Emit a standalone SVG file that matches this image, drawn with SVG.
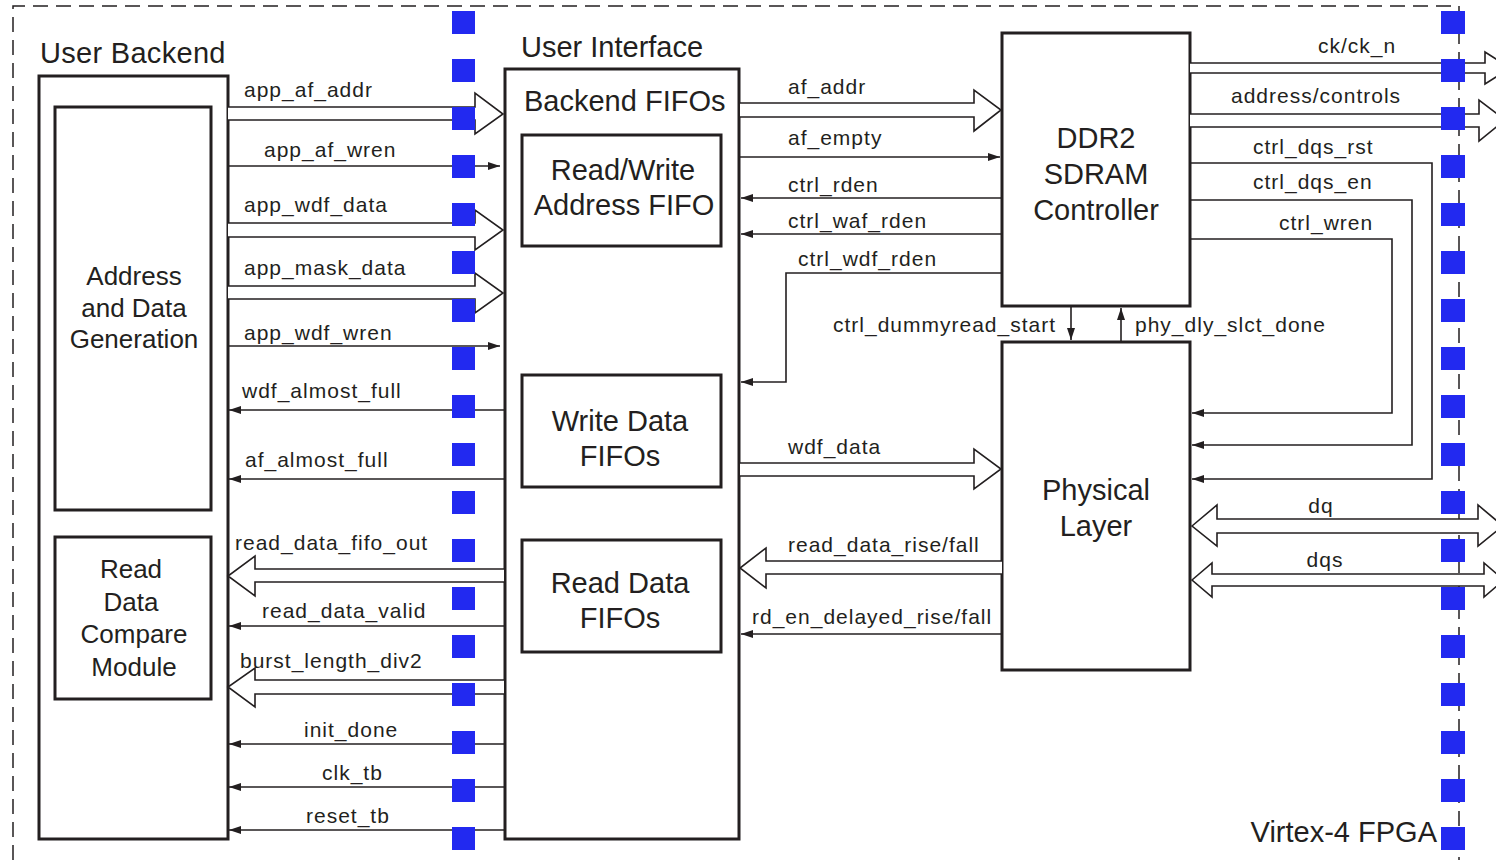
<svg xmlns="http://www.w3.org/2000/svg" width="1496" height="860" viewBox="0 0 1496 860">
<style>
.box{fill:none;stroke:#231f20;stroke-width:3}
.ln{fill:none;stroke:#231f20;stroke-width:1.6}
.wd{fill:#fff;stroke:#231f20;stroke-width:1.6;stroke-linejoin:miter}
.frame{fill:none;stroke:#231f20;stroke-width:1.5;stroke-dasharray:15 8}
.sq{fill:#2229f0}
text{font-family:"Liberation Sans",Arial,Helvetica,sans-serif;fill:#231f20}
.s{font-size:21px;letter-spacing:1px}
.m{font-size:26px}
.b{font-size:29px}
</style>
<defs>
<marker id="ah" viewBox="0 0 12 8" refX="12" refY="4" markerWidth="12" markerHeight="8" orient="auto" markerUnits="userSpaceOnUse">
<path d="M0,0 L12,4 L0,8 z" fill="#231f20"/>
</marker>
</defs>
<rect width="1496" height="860" fill="#fff"/>
<path class="frame" d="M13,860 V6 H1459 V860"/>
<text class="b" x="1437" y="842" text-anchor="end">Virtex-4 FPGA</text>

<g id="user-backend">
<rect class="box" x="39" y="76" width="189" height="763"/>
<text class="b" x="40" y="63" style="letter-spacing:0.3px">User Backend</text>
</g>
<g id="addr-data-gen">
<rect class="box" x="55" y="107" width="156" height="403"/>
<text class="m" x="134" y="285" text-anchor="middle">Address</text>
<text class="m" x="134" y="317" text-anchor="middle">and Data</text>
<text class="m" x="134" y="348" text-anchor="middle">Generation</text>
</g>
<g id="read-data-compare">
<rect class="box" x="55" y="537" width="156" height="162"/>
<text class="m" x="131" y="578" text-anchor="middle">Read</text>
<text class="m" x="131" y="611" text-anchor="middle">Data</text>
<text class="m" x="134" y="643" text-anchor="middle">Compare</text>
<text class="m" x="134" y="676" text-anchor="middle">Module</text>
</g>
<g id="user-interface">
<rect class="box" x="505" y="69" width="234" height="770"/>
<text class="b" x="521" y="57">User Interface</text>
<text class="b" x="524" y="111">Backend FIFOs</text>
</g>
<g id="rw-addr-fifo">
<rect class="box" x="522" y="135" width="199" height="111"/>
<text class="b" x="623" y="180" text-anchor="middle">Read/Write</text>
<text class="b" x="624" y="215" text-anchor="middle">Address FIFO</text>
</g>
<g id="write-data-fifos">
<rect class="box" x="522" y="375" width="199" height="112"/>
<text class="b" x="620" y="431" text-anchor="middle">Write Data</text>
<text class="b" x="620" y="466" text-anchor="middle">FIFOs</text>
</g>
<g id="read-data-fifos">
<rect class="box" x="522" y="540" width="199" height="112"/>
<text class="b" x="620" y="593" text-anchor="middle">Read Data</text>
<text class="b" x="620" y="628" text-anchor="middle">FIFOs</text>
</g>
<g id="ddr2-controller">
<rect class="box" x="1002" y="33" width="188" height="273"/>
<text class="b" x="1096" y="148" text-anchor="middle">DDR2</text>
<text class="b" x="1096" y="184" text-anchor="middle">SDRAM</text>
<text class="b" x="1096" y="220" text-anchor="middle">Controller</text>
</g>
<g id="physical-layer">
<rect class="box" x="1002" y="342" width="188" height="328"/>
<text class="b" x="1096" y="500" text-anchor="middle">Physical</text>
<text class="b" x="1096" y="536" text-anchor="middle">Layer</text>
</g>

<g id="connectors">
<path class="wd" d="M228,107 H475 V93 L503,114 L475,134 V120 H228"/>
<path class="ln" marker-end="url(#ah)" d="M228,166 H500"/>
<path class="wd" d="M228,223 H475 V210 L503,230 L475,250 V237 H228"/>
<path class="wd" d="M228,286 H475 V273 L503,293 L475,313 V299 H228"/>
<path class="ln" marker-end="url(#ah)" d="M228,346 H500"/>
<path class="ln" marker-end="url(#ah)" d="M504,410 H229"/>
<path class="ln" marker-end="url(#ah)" d="M504,479 H229"/>
<path class="wd" d="M504,569 H255 V556 L228,576 L255,596 V582 H504"/>
<path class="ln" marker-end="url(#ah)" d="M504,626 H229"/>
<path class="wd" d="M504,680 H255 V668 L228,687 L255,707 V694 H504"/>
<path class="ln" marker-end="url(#ah)" d="M504,744 H229"/>
<path class="ln" marker-end="url(#ah)" d="M504,787 H229"/>
<path class="ln" marker-end="url(#ah)" d="M504,830 H229"/>

<path class="wd" d="M740,103 H974 V90 L1001,110 L974,131 V117 H740"/>
<path class="ln" marker-end="url(#ah)" d="M740,157 H1000"/>
<path class="ln" marker-end="url(#ah)" d="M1002,198 H741"/>
<path class="ln" marker-end="url(#ah)" d="M1002,234 H741"/>
<path class="ln" marker-end="url(#ah)" d="M1002,273 H786 V382 H741"/>
<path class="ln" marker-end="url(#ah)" d="M1071,306 V340"/>
<path class="ln" marker-end="url(#ah)" d="M1121,342 V308"/>
<path class="wd" d="M740,463 H974 V449 L1001,469 L974,489 V476 H740"/>
<path class="wd" d="M1002,561 H766 V548 L740,568 L766,588 V574 H1002"/>
<path class="ln" marker-end="url(#ah)" d="M1002,634 H741"/>

<path class="wd" d="M1190,63 H1485 V52 L1510,68 L1485,84 V73 H1190"/>
<path class="wd" d="M1190,114 H1479 V100 L1505,120 L1479,141 V127 H1190"/>
<path class="ln" marker-end="url(#ah)" d="M1190,163 H1432 V479 H1192"/>
<path class="ln" marker-end="url(#ah)" d="M1190,200 H1412 V445 H1192"/>
<path class="ln" marker-end="url(#ah)" d="M1190,239 H1392 V413 H1192"/>
<path class="wd" d="M1192,526 L1217,505 V519 H1478 V505 L1503,526 L1478,546 V533 H1217 V546 Z"/>
<path class="wd" d="M1192,580 L1212,563 V574 H1484 V563 L1504,580 L1484,597 V586 H1212 V597 Z"/>
</g>

<g id="labels">
<text class="s" x="244" y="97">app_af_addr</text>
<text class="s" x="264" y="157">app_af_wren</text>
<text class="s" x="244" y="212">app_wdf_data</text>
<text class="s" x="244" y="275">app_mask_data</text>
<text class="s" x="244" y="340">app_wdf_wren</text>
<text class="s" x="242" y="398">wdf_almost_full</text>
<text class="s" x="245" y="467">af_almost_full</text>
<text class="s" x="235" y="550">read_data_fifo_out</text>
<text class="s" x="262" y="618">read_data_valid</text>
<text class="s" x="240" y="668">burst_length_div2</text>
<text class="s" x="304" y="737">init_done</text>
<text class="s" x="322" y="780">clk_tb</text>
<text class="s" x="306" y="823">reset_tb</text>
<text class="s" x="788" y="94">af_addr</text>
<text class="s" x="788" y="145">af_empty</text>
<text class="s" x="788" y="192">ctrl_rden</text>
<text class="s" x="788" y="228">ctrl_waf_rden</text>
<text class="s" x="798" y="266">ctrl_wdf_rden</text>
<text class="s" x="833" y="332">ctrl_dummyread_start</text>
<text class="s" x="1135" y="332">phy_dly_slct_done</text>
<text class="s" x="788" y="454">wdf_data</text>
<text class="s" x="788" y="552">read_data_rise/fall</text>
<text class="s" x="752" y="624">rd_en_delayed_rise/fall</text>
<text class="s" x="1318" y="53">ck/ck_n</text>
<text class="s" x="1231" y="103">address/controls</text>
<text class="s" x="1253" y="154">ctrl_dqs_rst</text>
<text class="s" x="1253" y="189">ctrl_dqs_en</text>
<text class="s" x="1279" y="230">ctrl_wren</text>
<text class="s" x="1321" y="513" text-anchor="middle">dq</text>
<text class="s" x="1325" y="567" text-anchor="middle">dqs</text>
</g>

<g id="io-pads-left">
<rect class="sq" x="452" y="11" width="23" height="23"/>
<rect class="sq" x="452" y="59" width="23" height="23"/>
<rect class="sq" x="452" y="107" width="23" height="23"/>
<rect class="sq" x="452" y="155" width="23" height="23"/>
<rect class="sq" x="452" y="203" width="23" height="23"/>
<rect class="sq" x="452" y="251" width="23" height="23"/>
<rect class="sq" x="452" y="299" width="23" height="23"/>
<rect class="sq" x="452" y="347" width="23" height="23"/>
<rect class="sq" x="452" y="395" width="23" height="23"/>
<rect class="sq" x="452" y="443" width="23" height="23"/>
<rect class="sq" x="452" y="491" width="23" height="23"/>
<rect class="sq" x="452" y="539" width="23" height="23"/>
<rect class="sq" x="452" y="587" width="23" height="23"/>
<rect class="sq" x="452" y="635" width="23" height="23"/>
<rect class="sq" x="452" y="683" width="23" height="23"/>
<rect class="sq" x="452" y="731" width="23" height="23"/>
<rect class="sq" x="452" y="779" width="23" height="23"/>
<rect class="sq" x="452" y="827" width="23" height="23"/>
</g>
<g id="io-pads-right">
<rect class="sq" x="1441" y="11" width="24" height="23"/>
<rect class="sq" x="1441" y="59" width="24" height="23"/>
<rect class="sq" x="1441" y="107" width="24" height="23"/>
<rect class="sq" x="1441" y="155" width="24" height="23"/>
<rect class="sq" x="1441" y="203" width="24" height="23"/>
<rect class="sq" x="1441" y="251" width="24" height="23"/>
<rect class="sq" x="1441" y="299" width="24" height="23"/>
<rect class="sq" x="1441" y="347" width="24" height="23"/>
<rect class="sq" x="1441" y="395" width="24" height="23"/>
<rect class="sq" x="1441" y="443" width="24" height="23"/>
<rect class="sq" x="1441" y="491" width="24" height="23"/>
<rect class="sq" x="1441" y="539" width="24" height="23"/>
<rect class="sq" x="1441" y="587" width="24" height="23"/>
<rect class="sq" x="1441" y="635" width="24" height="23"/>
<rect class="sq" x="1441" y="683" width="24" height="23"/>
<rect class="sq" x="1441" y="731" width="24" height="23"/>
<rect class="sq" x="1441" y="779" width="24" height="23"/>
<rect class="sq" x="1441" y="827" width="24" height="23"/>
</g>
</svg>
